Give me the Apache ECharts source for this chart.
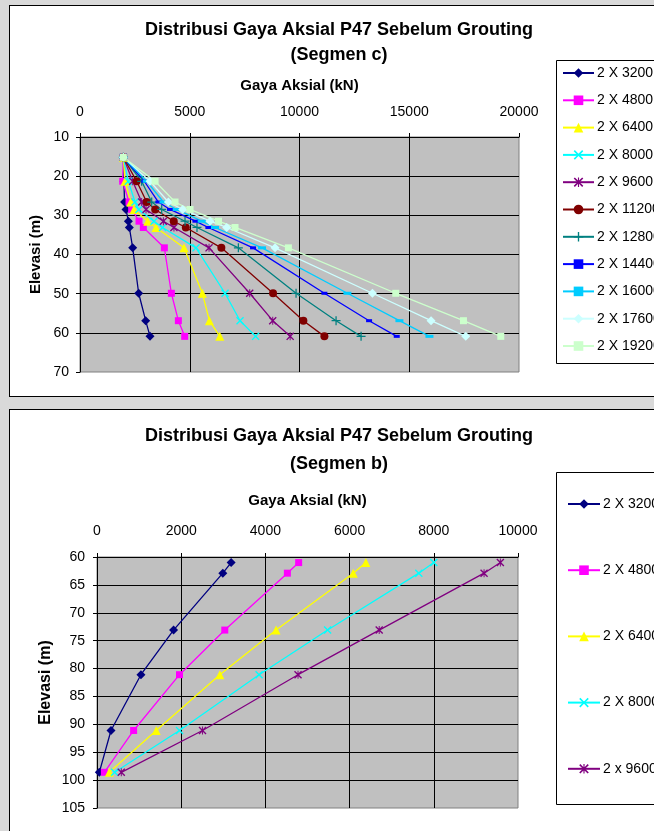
<!DOCTYPE html>
<html>
<head>
<meta charset="utf-8">
<script src="https://cdn.jsdelivr.net/npm/echarts@6/dist/echarts.min.js"></script>
<style>
html,body{margin:0;padding:0;background:#d9d9d9;width:654px;height:831px;overflow:hidden;}
.box{position:absolute;background:#fff;border:1px solid #000;}
#chart{position:absolute;left:0;top:0;width:654px;height:831px;}
</style>
</head>
<body>
<div class="box" style="left:9px;top:5px;width:700px;height:390px;"></div>
<div class="box" style="left:9px;top:409px;width:700px;height:500px;"></div>
<div id="chart"></div>
<script>
// ---------- Segmen c (top chart) ----------
const elevC = [15.2, 21.3, 26.6, 28.5, 31.5, 33.1, 38.3, 49.9, 56.9, 60.9];
const c3200  = [1975, 2000, 2030, 2096, 2203, 2248, 2400, 2673, 2992, 3190];
const c4800  = [1975, 1944, 2233, 2354, 2689, 2886, 3843, 4162, 4481, 4770];
const c6400  = [1975, 2050, 2310, 2461, 3084, 3463, 4739, 5575, 5894, 6370];
const c8000  = [1975, 2200, 2506, 2680, 3372, 3760, 5286, 6608, 7291, 8000];
const c9600  = [1975, 2400, 2810, 3008, 3798, 4280, 5879, 7732, 8780, 9575];
const c11200 = [1975, 2582, 3038, 3425, 4270, 4820, 6440, 8795, 10177, 11134];
const c12800 = [1975, 2810, 3266, 3722, 4785, 5330, 7215, 9843, 11666, 12805];
const c14400 = [1975, 2930, 3570, 4101, 5260, 5848, 7884, 11134, 13170, 14430];
const c16000 = [1975, 3040, 3800, 4405, 5544, 6150, 8294, 12182, 14552, 15920];
const c17600 = [1975, 3190, 4025, 4679, 5924, 6684, 8886, 13322, 15995, 17575];
const c19200 = [1975, 3420, 4330, 5013, 6310, 7063, 9494, 14385, 17469, 19170];
const namesC = ["2 X 3200","2 X 4800","2 X 6400","2 X 8000","2 X 9600","2 X 11200","2 X 12800","2 X 14400","2 X 16000","2 X 17600","2 X 19200"];
const xTicksC = [0, 5000, 10000, 15000, 20000];
const yTicksC = [10, 20, 30, 40, 50, 60, 70];

// ---------- Segmen b (bottom chart) ----------
const elevB = [61.0, 62.9, 73.1, 81.1, 91.1, 98.6];
const b3200 = [3186, 2988, 1818, 1043, 332, 55];
const b4800 = [4790, 4522, 3035, 1960, 870, 174];
const b6400 = [6387, 6087, 4253, 2917, 1407, 292];
const b8000 = [8000, 7644, 5478, 3850, 1960, 419];
const b9600 = [9581, 9194, 6703, 4775, 2506, 577];
const namesB = ["2 X 3200","2 X 4800","2 X 6400","2 X 8000","2 x 9600"];
const xTicksB = [0, 2000, 4000, 6000, 8000, 10000];
const yTicksB = [60, 65, 70, 75, 80, 85, 90, 95, 100, 105];

const titleMain = "Distribusi Gaya Aksial P47 Sebelum Grouting";
const titleC = "(Segmen c)";
const titleB = "(Segmen b)";
const xName = "Gaya Aksial (kN)";
const yName = "Elevasi (m)";

// symbols
const X_PATH = 'path://M0,1.2L1.2,0L5,3.8L8.8,0L10,1.2L6.2,5L10,8.8L8.8,10L5,6.2L1.2,10L0,8.8L3.8,5Z';
const STAR_PATH = 'path://M0,1.2L1.2,0L5,3.8L8.8,0L10,1.2L6.2,5L10,8.8L8.8,10L5,6.2L1.2,10L0,8.8L3.8,5Z M4.4,0H5.6V10H4.4Z';
const PLUS_PATH = 'path://M4.3,0H5.7V10H4.3Z M0,4.3H10V5.7H0Z';

const styles = [
  {color:'#000080', symbol:'diamond', size:9},
  {color:'#FF00FF', symbol:'rect', size:7},
  {color:'#FFFF00', symbol:'triangle', size:9},
  {color:'#00FFFF', symbol:X_PATH, size:8},
  {color:'#800080', symbol:STAR_PATH, size:8},
  {color:'#800000', symbol:'circle', size:8},
  {color:'#008080', symbol:PLUS_PATH, size:9},
  {color:'#0000FF', symbol:'rect', size:[6,3]},
  {color:'#00CCFF', symbol:'rect', size:[8,3]},
  {color:'#CCFFFF', symbol:'diamond', size:9},
  {color:'#CCFFCC', symbol:'rect', size:7}
];

function mk(name, xs, elev, st, gi) {
  return {
    type:'line', name:name, xAxisIndex:gi, yAxisIndex:gi,
    data: xs.map((v,i)=>[v, elev[i]]),
    symbol: st.symbol, symbolSize: st.size, showSymbol:true,
    lineStyle:{color:st.color, width:1.3},
    itemStyle:{color:st.color, borderWidth:0},
    emphasis:{disabled:true},
    z: 3
  };
}

const seriesC = [c3200,c4800,c6400,c8000,c9600,c11200,c12800,c14400,c16000,c17600,c19200];
const seriesB = [b3200,b4800,b6400,b8000,b9600];

const FONT = 'Liberation Sans, Arial, sans-serif';

function xAxisCfg(gi, max, interval, margin, gap) {
  return {
    type:'value', gridIndex:gi, position:'top', min:0, max:max, interval:interval,
    name:xName, nameLocation:'middle', nameGap:gap, nameMoveOverlap:false,
    nameTextStyle:{fontFamily:FONT, fontWeight:'bold', fontSize:15, color:'#000'},
    axisLine:{show:true, lineStyle:{color:'#000', width:1}},
    axisTick:{show:true, length:4, lineStyle:{color:'#000'}},
    axisLabel:{fontFamily:FONT, fontSize:14, color:'#000', margin:margin, formatter:(v)=>String(v)},
    splitLine:{show:true, showMaxLine:false, showMinLine:false, lineStyle:{color:'#000', width:1}}
  };
}
function yAxisCfg(gi, min, max, interval, margin, gap, nameSize) {
  return {
    type:'value', gridIndex:gi, inverse:true, min:min, max:max, interval:interval,
    name:yName, nameLocation:'middle', nameGap:gap, nameRotate:90, nameMoveOverlap:false,
    nameTextStyle:{fontFamily:FONT, fontWeight:'bold', fontSize:nameSize, color:'#000'},
    axisLine:{show:true, lineStyle:{color:'#000', width:1}},
    axisTick:{show:true, length:4, lineStyle:{color:'#000'}},
    axisLabel:{fontFamily:FONT, fontSize:14, color:'#000', margin:margin, formatter:(v)=>String(v)},
    splitLine:{show:true, showMaxLine:false, showMinLine:false, lineStyle:{color:'#000', width:1}}
  };
}

const chart = echarts.init(document.getElementById('chart'), null, {renderer:'canvas'});
const series = [];
seriesC.forEach((d,i)=>series.push(mk(namesC[i], d, elevC, styles[i], 0)));
seriesB.forEach((d,i)=>series.push(mk(namesB[i], d, elevB, styles[i], 1)));

chart.setOption({
  animation:false,
  backgroundColor:'transparent',
  grid:[
    {left:80, top:137, width:439, height:235, show:true, backgroundColor:'#C0C0C0', borderColor:'#808080', borderWidth:1},
    {left:97, top:557, width:421, height:251, show:true, backgroundColor:'#C0C0C0', borderColor:'#808080', borderWidth:1}
  ],
  xAxis:[
    xAxisCfg(0, xTicksC[xTicksC.length-1], xTicksC[1]-xTicksC[0], 18, 44),
    xAxisCfg(1, xTicksB[xTicksB.length-1], xTicksB[1]-xTicksB[0], 19, 49)
  ],
  yAxis:[
    yAxisCfg(0, yTicksC[0], yTicksC[yTicksC.length-1], yTicksC[1]-yTicksC[0], 11, 37, 15),
    yAxisCfg(1, yTicksB[0], yTicksB[yTicksB.length-1], yTicksB[1]-yTicksB[0], 12, 43, 16)
  ],
  legend:[
    {orient:'vertical', left:562, top:66, itemWidth:31, itemHeight:12, itemGap:13.3,
     padding:0, data:namesC, selectedMode:false,
     textStyle:{fontFamily:FONT, fontSize:14, color:'#000', padding:[0,0,0,-2]}},
    {orient:'vertical', left:567, top:497, itemWidth:32, itemHeight:12, itemGap:52.2,
     padding:0, data:namesB, selectedMode:false,
     textStyle:{fontFamily:FONT, fontSize:14, color:'#000', padding:[0,0,0,-2]}}
  ],
  graphic:[
    {type:'rect', shape:{x:556.5, y:60.5, width:200, height:303}, style:{fill:'#fff', stroke:'#000', lineWidth:1}, z:-1, silent:true},
    {type:'rect', shape:{x:556.5, y:472.5, width:200, height:332}, style:{fill:'#fff', stroke:'#000', lineWidth:1}, z:-1, silent:true},
    {type:'text', x:339, y:30, style:{text:titleMain, font:'bold 18px '+FONT, fill:'#000', textAlign:'center', textVerticalAlign:'middle'}},
    {type:'text', x:339, y:55, style:{text:titleC, font:'bold 18px '+FONT, fill:'#000', textAlign:'center', textVerticalAlign:'middle'}},
    {type:'text', x:339, y:436, style:{text:titleMain, font:'bold 18px '+FONT, fill:'#000', textAlign:'center', textVerticalAlign:'middle'}},
    {type:'text', x:339, y:464, style:{text:titleB, font:'bold 18px '+FONT, fill:'#000', textAlign:'center', textVerticalAlign:'middle'}}
  ],
  series:series
});
</script>
</body>
</html>
